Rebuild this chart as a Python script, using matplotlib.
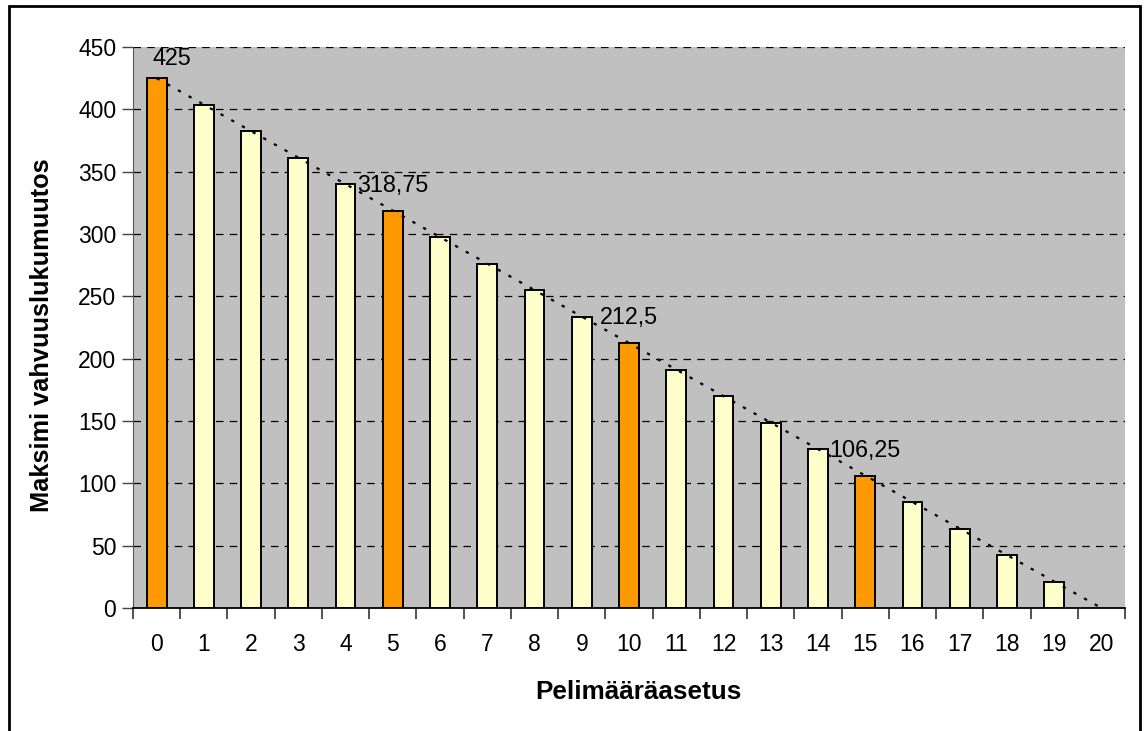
import matplotlib
matplotlib.use("Agg")
import matplotlib.pyplot as plt
from matplotlib.patches import Rectangle
from matplotlib.ticker import MultipleLocator, FixedLocator

plt.rcParams['font.family'] = ['Liberation Sans', 'DejaVu Sans']

categories = [str(i) for i in range(21)]
values = [425, 403.75, 382.5, 361.25, 340, 318.75, 297.5, 276.25, 255, 233.75,
          212.5, 191.25, 170, 148.75, 127.5, 106.25, 85, 63.75, 42.5, 21.25, None]
highlight = [0, 5, 10, 15]
label_texts = {0: "425", 5: "318,75", 10: "212,5", 15: "106,25"}
trend_x = [0, 20]
trend_y = [425, 0]

ORANGE = "#FF9900"
PALE = "#FFFFCC"
BG = "#C0C0C0"

fig = plt.figure(figsize=(11.45, 7.31), dpi=100)
ax = fig.add_axes([133/1145, 1-608/731, (1125-133)/1145, (608-47)/731])
ax.set_facecolor(BG)

xs = list(range(len(categories)))
for i, v in enumerate(values):
    if v is None:
        continue
    ax.bar(i, v, width=0.42, color=ORANGE if i in highlight else PALE,
           edgecolor="black", linewidth=1.4, zorder=3)

ax.plot(trend_x, trend_y, color="black", linestyle=(0, (1.5, 4)), linewidth=1.6, zorder=4)

label_offsets = {0: (10.8, 9.4)}
for i, t in label_texts.items():
    off = label_offsets.get(i, (0, 13.7))
    ax.annotate(t, (i, values[i]), xytext=off, textcoords="offset points",
                ha="center", va="baseline", fontsize=16.8, zorder=5)

ax.set_xlim(-0.5, 20.5)
ax.set_ylim(0, 450)
ax.yaxis.set_major_locator(MultipleLocator(50))
ax.grid(axis="y", color="black", linestyle=(0, (6, 5)), linewidth=0.9, zorder=1)
ax.set_axisbelow(True)

ax.set_xticks(xs)
ax.set_xticklabels(categories)
ax.xaxis.set_minor_locator(FixedLocator([x - 0.5 for x in range(22)]))
ax.tick_params(axis="x", which="major", length=0, pad=18, labelsize=16.5)
ax.tick_params(axis="x", which="minor", length=8, width=1.2, direction="out", color="#333333")
ax.tick_params(axis="y", which="major", length=8, width=1.0, direction="out",
               labelsize=16.5, pad=4, color="#444444")

for s in ["top", "right"]:
    ax.spines[s].set_visible(False)
ax.spines["left"].set_color("#555555")
ax.spines["bottom"].set_color("black")
ax.spines["bottom"].set_linewidth(1.3)

fig.text(638/1145, 1-692/731, "Pelimääräasetus", ha="center", va="center",
         fontsize=18.8, fontweight="bold")
fig.text(42/1145, 1-335/731, "Maksimi vahvuuslukumuutos", ha="center", va="center",
         rotation=90, fontsize=18.3, fontweight="bold")

fig.patches.append(Rectangle((9/1145, -0.05), (1140-9)/1145, 1.05-6/731,
                             transform=fig.transFigure, fill=False,
                             edgecolor="black", linewidth=2))

fig.savefig("out.png", dpi=100)
